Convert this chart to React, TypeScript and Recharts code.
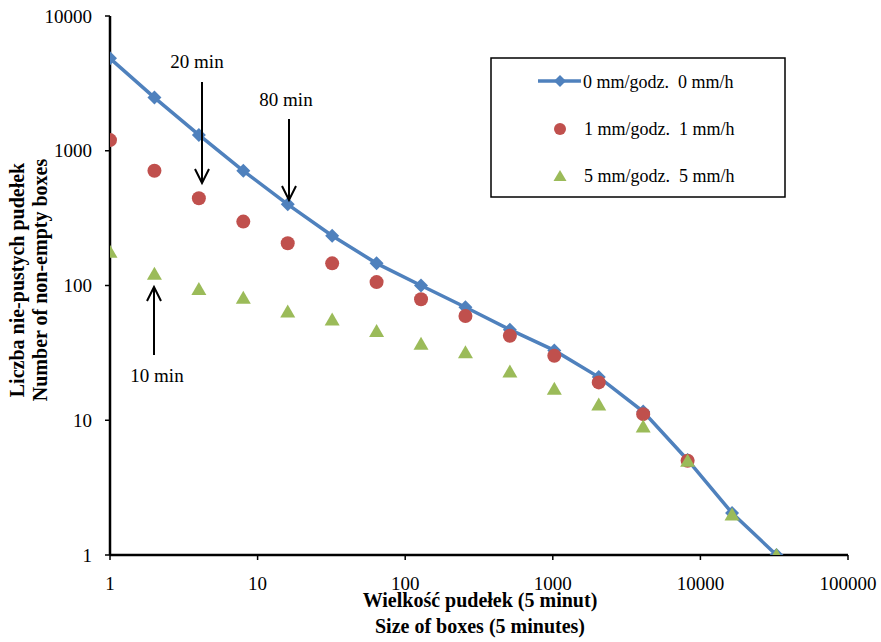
import React from 'react'
import {
  ComposedChart,
  Line,
  XAxis,
  YAxis,
  Legend,
} from 'recharts'

// box sizes (in 5-minute units)
const boxSizes = [1, 2, 4, 8, 16, 32, 64, 128, 256, 512, 1024, 2048, 4096, 8192, 16384, 32768]

const rain0 = [4850, 2480, 1310, 710, 400, 234, 146, 100, 69, 47, 33, 20.9, 11.6, 5.07, 2.05, 1]
const rain1 = [1200, 710, 444, 298, 206, 146, 106, 79, 59.4, 42.4, 30.1, 19.1, 11.1, 5]
const rain5 = [178, 122, 94, 81, 64, 56, 46, 37, 32, 23, 17.1, 13.1, 9, 5, 2, 1]

const seriesNames = ['0 mm/godz.  0 mm/h', '1 mm/godz.  1 mm/h', '5 mm/godz.  5 mm/h']

const xTicks = [1, 10, 100, 1000, 10000, 100000]
const yTicks = [1, 10, 100, 1000, 10000]

const BLUE = '#4F81BD'
const RED = '#C0504D'
const GREEN = '#9BBB59'
const FONT = '"Liberation Serif", "Times New Roman", serif'

const data = boxSizes.map((x, i) => ({
  x,
  r0: rain0[i] ?? null,
  r1: rain1[i] ?? null,
  r5: rain5[i] ?? null,
}))

const Diamond = (props: any) => {
  const { cx, cy, index } = props
  if (cx == null || cy == null) return <g key={`d${index}`} />
  const s = 7
  return (
    <polygon
      key={`d${index}`}
      points={`${cx},${cy - s} ${cx + s},${cy} ${cx},${cy + s} ${cx - s},${cy}`}
      fill={BLUE}
    />
  )
}

const Circle = (props: any) => {
  const { cx, cy, index, value } = props
  if (cx == null || cy == null || value == null) return <g key={`c${index}`} />
  return <circle key={`c${index}`} cx={cx} cy={cy} r={7} fill={RED} />
}

const Triangle = (props: any) => {
  const { cx, cy, index, value } = props
  if (cx == null || cy == null || value == null) return <g key={`t${index}`} />
  return (
    <polygon
      key={`t${index}`}
      points={`${cx},${cy - 7} ${cx + 7.5},${cy + 6} ${cx - 7.5},${cy + 6}`}
      fill={GREEN}
    />
  )
}

const LegendBox = () => (
  <svg width={297} height={142} style={{ display: 'block' }}>
    <rect x={1} y={1} width={294} height={139} fill="#fff" stroke="#000" strokeWidth={1.5} />
    <line x1={48} y1={24} x2={91} y2={24} stroke={BLUE} strokeWidth={3.5} />
    <polygon points="70,18 76,24 70,30 64,24" fill={BLUE} />
    <text x={93} y={31} fontFamily={FONT} fontSize={18} fill="#000" style={{ whiteSpace: 'pre' }}>
      {seriesNames[0]}
    </text>
    <circle cx={70} cy={72} r={6} fill={RED} />
    <text x={94} y={78} fontFamily={FONT} fontSize={18} fill="#000" style={{ whiteSpace: 'pre' }}>
      {seriesNames[1]}
    </text>
    <polygon points="70,113 76.5,124 63.5,124" fill={GREEN} />
    <text x={94} y={125} fontFamily={FONT} fontSize={18} fill="#000" style={{ whiteSpace: 'pre' }}>
      {seriesNames[2]}
    </text>
  </svg>
)

const Arrow = ({ x, y1, y2 }: { x: number; y1: number; y2: number }) => {
  // arrow from y1 to y2, head at y2
  const dir = y2 > y1 ? -1 : 1
  return (
    <g stroke="#000" strokeWidth={2} fill="none">
      <line x1={x} y1={y1} x2={x} y2={y2} />
      <polyline points={`${x - 7},${y2 + dir * 14} ${x},${y2} ${x + 7},${y2 + dir * 14}`} />
    </g>
  )
}

export default function App() {
  return (
    <div style={{ position: 'absolute', left: 0, top: 0, width: 881, height: 642, background: '#fff' }}>
      <ComposedChart
        width={881}
        height={642}
        data={data}
        margin={{ top: 16, right: 33, bottom: 0, left: 0 }}
      >
        <XAxis
          dataKey="x"
          type="number"
          scale="log"
          domain={[1, 100000]}
          ticks={xTicks}
          allowDataOverflow
          height={87}
          tickSize={5}
          tickMargin={17}
          axisLine={{ stroke: '#000', strokeWidth: 2.5 }}
          tickLine={{ stroke: '#000', strokeWidth: 1.5 }}
          tick={{ fill: '#000', fontSize: 19, fontFamily: FONT }}
          interval={0}
        />
        <XAxis
          xAxisId="top"
          orientation="top"
          dataKey="x"
          type="number"
          scale="log"
          domain={[1, 100000]}
          allowDataOverflow
          height={0}
          tick={false}
          tickLine={false}
          axisLine={{ stroke: '#222', strokeWidth: 1.2 }}
        />
        <YAxis
          type="number"
          scale="log"
          domain={[1, 10000]}
          ticks={yTicks}
          allowDataOverflow
          width={110}
          tickSize={5}
          tickMargin={13}
          axisLine={{ stroke: '#000', strokeWidth: 2.5 }}
          tickLine={{ stroke: '#000', strokeWidth: 1.5 }}
          tick={{ fill: '#000', fontSize: 19, fontFamily: FONT }}
          interval={0}
        />
        <YAxis
          yAxisId="right"
          orientation="right"
          type="number"
          scale="log"
          domain={[1, 10000]}
          allowDataOverflow
          width={0}
          tick={false}
          tickLine={false}
          axisLine={{ stroke: '#222', strokeWidth: 1.2 }}
        />
        <Legend
          layout="vertical"
          align="center"
          verticalAlign="middle"
          content={() => <LegendBox />}
          wrapperStyle={{ position: 'absolute', left: 490, top: 57, width: 297, height: 142 }}
        />
        <Line
          dataKey="r0"
          name={seriesNames[0]}
          stroke={BLUE}
          strokeWidth={3.5}
          dot={Diamond}
          activeDot={false}
          isAnimationActive={false}
        />
        <Line
          dataKey="r1"
          name={seriesNames[1]}
          stroke="none"
          strokeWidth={0}
          dot={Circle}
          activeDot={false}
          isAnimationActive={false}
        />
        <Line
          dataKey="r5"
          name={seriesNames[2]}
          stroke="none"
          strokeWidth={0}
          dot={Triangle}
          activeDot={false}
          isAnimationActive={false}
        />
      </ComposedChart>
      <svg
        width={881}
        height={642}
        style={{ position: 'absolute', left: 0, top: 0, pointerEvents: 'none' }}
      >
        <g fontFamily={FONT} fontWeight="bold" fontSize={20} fill="#000" textAnchor="middle">
          <text x={24} y={280} transform="rotate(-90 24 280)">Liczba nie-pustych pudełek</text>
          <text x={47} y={280} transform="rotate(-90 47 280)">Number of non-empty boxes</text>
          <text x={480} y={607}>Wielkość pudełek (5 minut)</text>
          <text x={480} y={633}>Size of boxes (5 minutes)</text>
        </g>
        <g fontFamily={FONT} fontSize={19} fill="#000" textAnchor="middle">
          <text x={197} y={68}>20 min</text>
          <text x={286} y={106}>80 min</text>
          <text x={157} y={382}>10 min</text>
        </g>
        <Arrow x={202} y1={82} y2={183} />
        <Arrow x={289} y1={119} y2={200} />
        <Arrow x={154} y1={355} y2={287} />
      </svg>
    </div>
  )
}
